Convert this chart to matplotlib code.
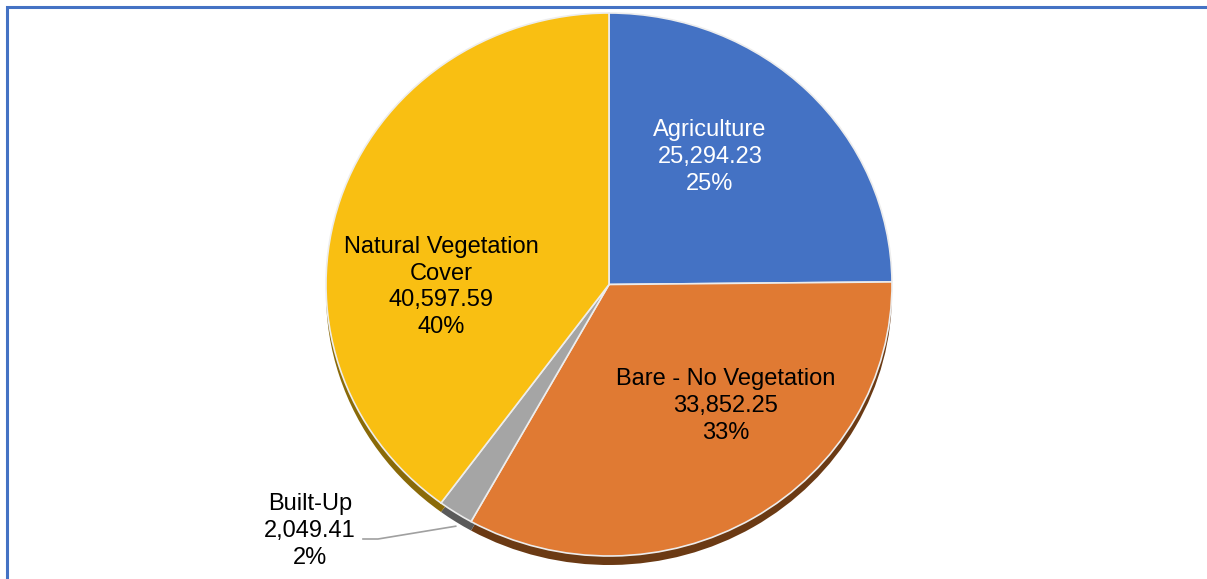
import numpy as np
from matplotlib import pyplot as plt
from matplotlib.patches import Rectangle

labels = ["Agriculture", "Bare - No Vegetation", "Built-Up", "Natural Vegetation\nCover"]
areas = [25294.23, 33852.25, 2049.41, 40597.59]
colors = ["#4472C4", "#E07A33", "#A5A5A5", "#F9BF12"]
side_colors = ["#2C4A80", "#6B3A14", "#5A5A5A", "#8A6A08"]
text_colors = ["white", "black", "black", "black"]

W, H = 1207, 579
fig = plt.figure(figsize=(W / 100, H / 100), dpi=100)

# blue frame around the chart area (runs off the right and bottom edge)
fig.patches.append(Rectangle((7 / W, -0.02), 1.05, 1 - 7 / H + 0.02,
                             transform=fig.transFigure, fill=False,
                             edgecolor="#4472C4", linewidth=2.2))

# pie box in pixels: x 326..892, y 13..556 (from top)
left, right, top, bottom = 326, 892, 13, 556
shadow = 9
cy = (top + bottom) / 2
ry = (bottom - top) / 2
cx = (left + right) / 2
rx = (right - left) / 2


def pie_axes(dy):
    a = fig.add_axes([left / W, (H - bottom - dy) / H,
                      (right - left) / W, (bottom - top) / H])
    a.axis("off")
    return a


def fix(a):
    a.set_xlim(-1, 1)
    a.set_ylim(-1, 1)
    a.set_aspect("auto")


# darker copy shifted down gives the 3D rim
ax_s = pie_axes(shadow)
ax_s.pie(areas, colors=side_colors, startangle=90, counterclock=False,
         radius=1, wedgeprops=dict(edgecolor="none"))
fix(ax_s)

ax = pie_axes(0)
wedges, _ = ax.pie(areas, colors=colors, startangle=90, counterclock=False,
                   radius=1, wedgeprops=dict(edgecolor="#EDEDED", linewidth=1.2))
fix(ax)

# label centres in pixels
pos_px = [(710, 157), (726, 406), (310, 531), (441, 287)]
total = sum(areas)
for name, v, (px, py), c in zip(labels, areas, pos_px, text_colors):
    ax.text((px - cx) / rx, (cy - py) / ry, f"{name}\n{v:,.2f}\n{v / total * 100:.0f}%",
            ha="center", va="center", fontsize=17, family="Liberation Sans",
            color=c, linespacing=1.27, clip_on=False)

# leader line for the small Built-Up slice
w = wedges[2]
mid = np.deg2rad((w.theta1 + w.theta2) / 2)
end = (np.cos(mid), np.sin(mid) - 1.5 * shadow / ry)
ax.plot([(363 - cx) / rx, (378 - cx) / rx, end[0]],
        [(cy - 539) / ry, (cy - 539) / ry, end[1]],
        color="#A0A0A0", linewidth=1.2, clip_on=False)

fig.savefig("out.png", dpi=100)
